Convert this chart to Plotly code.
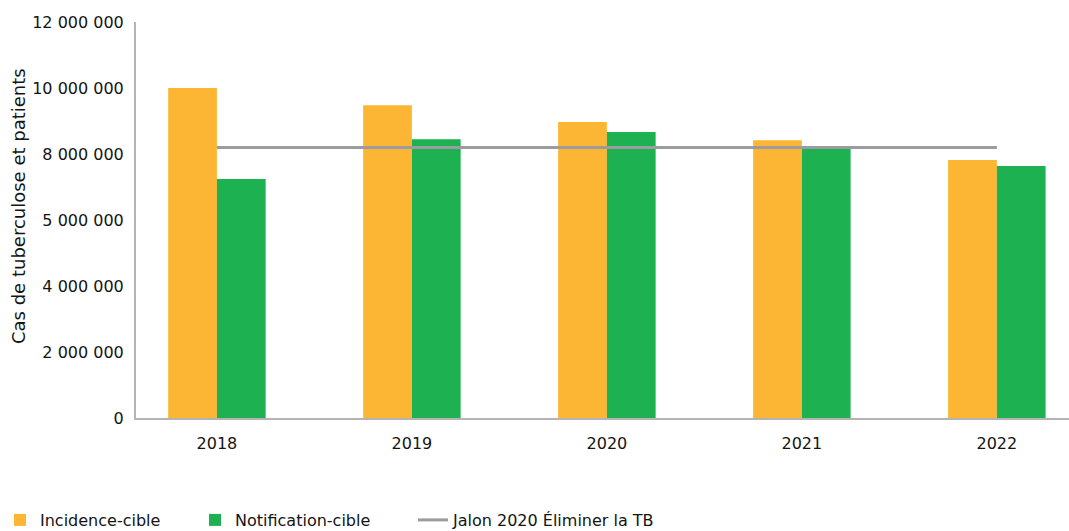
import plotly.graph_objects as go

years = ["2018", "2019", "2020", "2021", "2022"]
incidence_cible = [10_000_000, 9_480_000, 8_970_000, 8_420_000, 7_820_000]
notification_cible = [7_240_000, 8_450_000, 8_670_000, 8_180_000, 7_640_000]
jalon_2020 = [8_200_000] * len(years)

y_tick_values = [0, 2_000_000, 4_000_000, 6_000_000, 8_000_000, 10_000_000, 12_000_000]
y_tick_labels = ["0", "2 000 000", "4 000 000", "5 000 000", "8 000 000", "10 000 000", "12 000 000"]
y_title = "Cas de tuberculose et patients"

ORANGE = "#FDB633"
GREEN = "#1DB151"
GREY = "#9B9BA0"
FONT = "DejaVu Sans"
TEXT = "#141414"
FSIZE = 16

W, H = 1069, 531
M_L, M_R, M_T, M_B = 136, 0, 22, 113
PLOT_W = W - M_L - M_R
PLOT_H = H - M_T - M_B

fig = go.Figure()
fig.add_trace(go.Bar(x=years, y=incidence_cible, name="Incidence-cible",
                     marker=dict(color=ORANGE, line=dict(width=0)), legend="legend"))
fig.add_trace(go.Bar(x=years, y=notification_cible, name="Notification-cible",
                     marker=dict(color=GREEN, line=dict(width=0)), legend="legend2"))
fig.add_trace(go.Scatter(x=years, y=jalon_2020, name="Jalon 2020 Éliminer la TB",
                         mode="lines", line=dict(color=GREY, width=3), legend="legend3"))


def legend_box(x_px, top_px=503):
    # one legend per series so each entry sits at its own horizontal position
    return dict(orientation="h", xref="container", yref="container",
                x=x_px / W, y=(H - top_px) / H,
                xanchor="left", yanchor="top",
                font=dict(family=FONT, size=FSIZE, color=TEXT),
                itemwidth=30, bgcolor="rgba(0,0,0,0)")


fig.update_layout(
    width=W, height=H,
    margin=dict(l=M_L, r=M_R, t=M_T, b=M_B, autoexpand=False),
    paper_bgcolor="white", plot_bgcolor="white",
    barmode="group", bargap=0.5, bargroupgap=0,
    font=dict(family=FONT, size=FSIZE, color=TEXT),
    showlegend=True,
    legend=legend_box(-12),
    legend2=legend_box(195),
    legend3=legend_box(413),
    annotations=[dict(
        text=y_title, textangle=-90, showarrow=False,
        xref="paper", yref="paper",
        x=(18 - M_L) / PLOT_W, y=(H - M_B - 206) / PLOT_H,
        xanchor="center", yanchor="middle",
        font=dict(family=FONT, size=18, color=TEXT),
    )],
)

fig.update_xaxes(
    type="category", range=[-0.415, 4.37],
    showline=True, linecolor="#B4B4B4", linewidth=2,
    showgrid=False, ticks="", ticklabelstandoff=10,
    tickfont=dict(family=FONT, size=FSIZE, color=TEXT),
)
fig.update_yaxes(
    range=[0, 12_000_000],
    tickvals=y_tick_values, ticktext=y_tick_labels,
    showline=True, linecolor="#B4B4B4", linewidth=2,
    showgrid=False, zeroline=False, ticks="", ticklabelstandoff=7,
    tickfont=dict(family=FONT, size=FSIZE, color=TEXT),
)

fig.write_html("out.html")
